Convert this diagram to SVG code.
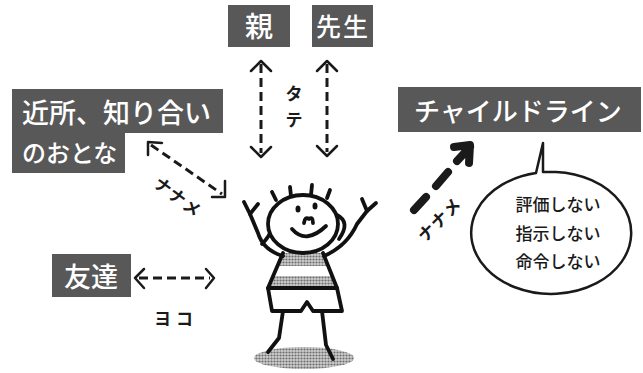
<svg xmlns="http://www.w3.org/2000/svg" width="643" height="373" viewBox="0 0 643 373">
  <style>
    .box { fill: #585858; }
    .lbl { fill: #ffffff; font-family: "Noto Sans CJK JP", "Noto Sans", sans-serif; font-weight: 500; }
    .note { fill: #1a1a1a; font-family: "Noto Sans CJK JP", "Noto Sans", sans-serif; font-size: 17px; font-weight: bold; }
    .dash { fill: none; stroke: #1a1a1a; stroke-width: 3; stroke-dasharray: 9 5; }
    .head { fill: none; stroke: #1a1a1a; stroke-width: 2.5; stroke-linecap: round; stroke-linejoin: round; }
    .ink { fill: none; stroke: #111; stroke-width: 3.8; stroke-linecap: round; stroke-linejoin: round; }
    .bub { font-family: "Noto Sans CJK JP", "Noto Sans", sans-serif; font-size: 17px; font-weight: 500; fill: #1a1a1a; text-anchor: middle; }
  </style>
  <defs>
    <pattern id="dots" width="3" height="3" patternUnits="userSpaceOnUse">
      <rect width="3" height="3" fill="#cfcfcf"/>
      <circle cx="1.5" cy="1.5" r="1.1" fill="#6e6e6e"/>
    </pattern>
  </defs>
  <rect width="643" height="373" fill="#ffffff"/>

  <!-- label boxes -->
  <g id="node-oya">
    <rect class="box" x="228" y="5" width="62" height="42"/>
    <text class="lbl" x="259" y="37" font-size="28" font-weight="bold" text-anchor="middle">親</text>
  </g>
  <g id="node-sensei">
    <rect class="box" x="312" y="5" width="61" height="42"/>
    <text class="lbl" x="343" y="36" font-size="25" font-weight="bold" text-anchor="middle" letter-spacing="2">先生</text>
  </g>
  <g id="node-kinjo">
    <path class="box" d="M12,89 H223 V133 H125 V173 H12 Z"/>
    <text class="lbl" x="22" y="123" font-size="27">近所、知り合い</text>
    <text class="lbl" x="22" y="162" font-size="24">のおとな</text>
  </g>
  <g id="node-childline">
    <rect class="box" x="398" y="87" width="243" height="45"/>
    <text class="lbl" x="414" y="121" font-size="26">チャイルドライン</text>
  </g>
  <g id="node-tomodachi">
    <rect class="box" x="52" y="254" width="79" height="43"/>
    <text class="lbl" x="91" y="287" font-size="27" text-anchor="middle">友達</text>
  </g>

  <!-- speech bubble -->
  <g id="node-bubble">
    <path d="M536,173 L543,143 L543,172 L556,172 A80,61 0 1 1 536,173 Z" fill="#ffffff" stroke="#1a1a1a" stroke-width="2.5" stroke-linejoin="round"/>
    <text class="bub" x="558" y="211">評価しない</text>
    <text class="bub" x="558" y="240">指示しない</text>
    <text class="bub" x="558" y="268">命令しない</text>
  </g>

  <!-- child figure -->
  <g id="node-child">
    <ellipse cx="304" cy="358" rx="50" ry="11" fill="url(#dots)"/>
    <!-- shirt with shaded stripes -->
    <path d="M283,253 L323,253 L328,266 L278,266 Z" fill="url(#dots)"/>
    <path d="M273,276 L332,276 L337,288 L268,288 Z" fill="url(#dots)"/>
    <path class="ink" d="M283,253 L268,288 L337,288 L323,253"/>
    <!-- shorts -->
    <path class="ink" d="M268,288 L272,311 L301,311 L307,302 L313,311 L342,311 L337,288" fill="#ffffff"/>
    <!-- legs -->
    <path class="ink" d="M283,311 L279,338 L268,352"/>
    <path class="ink" d="M322,311 L326,345 L333,359"/>
    <!-- arms -->
    <path class="ink" d="M283,256 Q263,250 258,233 L250,214"/>
    <path class="ink" d="M250,214 L244,202 M250,214 L258,204"/>
    <path class="ink" d="M262,244 Q270,236 272,228"/>
    <path class="ink" d="M324,256 Q347,246 357,224 L367,211"/>
    <path class="ink" d="M367,211 L362,199 M367,211 L376,203"/>
    <!-- head -->
    <ellipse cx="303" cy="224" rx="35" ry="29" fill="#ffffff" stroke="#111" stroke-width="3.8"/>
    <path class="ink" d="M337,215 Q351,222 339,239"/>
    <path class="ink" d="M276,200 L272,192 M291,196 L290,187 M311,195 L312,185 M327,198 L330,190"/>
    <ellipse cx="298" cy="209" rx="2.5" ry="3.5" fill="#111"/>
    <ellipse cx="315" cy="206" rx="2.5" ry="3.5" fill="#111"/>
    <path class="ink" d="M304,223 Q305,216 309,219 Q313,216 313,223" stroke-width="3"/>
    <path class="ink" d="M292,229 Q306,245 326,226"/>
  </g>

  <!-- connectors -->
  <g id="connectors">
    <!-- oya <-> child -->
    <line class="dash" x1="261" y1="64" x2="261" y2="153"/>
    <path class="head" d="M251,71 L261,61 L271,71 M251,147 L261,157 L271,147"/>
    <!-- sensei <-> child -->
    <line class="dash" x1="327" y1="64" x2="327" y2="152"/>
    <path class="head" d="M317,71 L327,61 L337,71 M317,146 L327,156 L337,146"/>
    <text class="note" x="294" y="100" text-anchor="middle" font-size="16">タ</text>
    <text class="note" x="294" y="126" text-anchor="middle" font-size="16">テ</text>
    <!-- neighbours <-> child -->
    <line class="dash" x1="151" y1="145" x2="222" y2="194"/>
    <path class="head" d="M148,155 L148,142 L162,143 M225,181 L225,197 L212,197"/>
    <text class="note" transform="translate(174,202) rotate(37)" text-anchor="middle" letter-spacing="1">ナナメ</text>
    <!-- friends <-> child -->
    <line class="dash" x1="139" y1="278" x2="210" y2="278" stroke-dasharray="8 5" stroke-width="2.5"/>
    <path class="head" d="M144,269 L135,278 L144,288 M206,269 L214,278 L206,288"/>
    <text class="note" x="176" y="325" text-anchor="middle" letter-spacing="5">ヨコ</text>
    <!-- child -> childline -->
    <path d="M414,210 L426,197 M436,186 L448,172" fill="none" stroke="#1a1a1a" stroke-width="8" stroke-linecap="round"/>
    <path d="M457,161 L470,147 M454,147 L470,145 L469,163" fill="none" stroke="#1a1a1a" stroke-width="8" stroke-linecap="round" stroke-linejoin="round"/>
    <text class="note" transform="translate(444,224) rotate(-45)" text-anchor="middle" letter-spacing="1">ナナメ</text>
  </g>
</svg>
